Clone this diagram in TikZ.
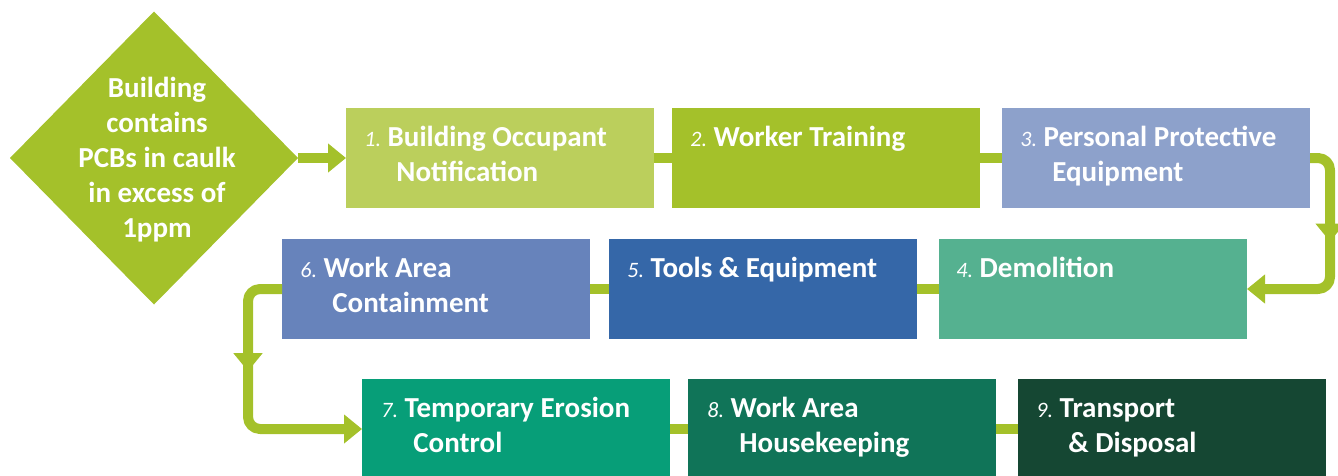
\documentclass[tikz,border=0pt]{standalone}
\usepackage{fontspec}
\setmainfont{Carlito}
\usepackage{tikz}
\usetikzlibrary{arrows.meta,shapes.geometric,decorations.markings,calc}

\definecolor{flowgreen}{HTML}{A4C12A}
\definecolor{stepA}{HTML}{BBCF5C}
\definecolor{stepB}{HTML}{A4C12A}
\definecolor{stepC}{HTML}{8DA1CB}
\definecolor{stepD}{HTML}{55B190}
\definecolor{stepE}{HTML}{3567A8}
\definecolor{stepF}{HTML}{6783BB}
\definecolor{stepG}{HTML}{079E78}
\definecolor{stepH}{HTML}{107458}
\definecolor{stepI}{HTML}{154733}

\newcommand{\stepno}[1]{\strut{\fontsize{11}{17.5}\selectfont\mdseries\itshape #1.}~}

\begin{document}
\begin{tikzpicture}[line cap=round,line join=round,>={Triangle[width=14pt,length=9pt]},x=0.5pt,y=-0.5pt,
  stepbox/.style={rectangle,minimum width=154pt,minimum height=50pt,inner sep=0pt,outer sep=0pt},
  steptext/.style={anchor=north west,inner sep=0pt,align=left,text=white,font=\fontsize{14.5}{17.5}\selectfont\bfseries},
  decision/.style={diamond,fill=flowgreen,minimum width=144pt,minimum height=146.5pt,inner sep=0pt,outer sep=0pt},
  decisiontext/.style={inner sep=0pt,align=center,text=white,font=\fontsize{14.5}{17.5}\selectfont\bfseries},
  flow/.style={draw=flowgreen,line width=5pt,line cap=butt,rounded corners=6pt},
  midarrow/.style={postaction={decorate},decoration={markings,mark=at position #1 with {\arrow{>}}}}]
\useasboundingbox (0,0) rectangle (1338,476);

% start
\node[decision] (d) at (154,158) {};
\node[decisiontext] (dt) at (157,160) {Building\\contains\\PCBs in caulk\\in excess of\\1ppm};

% steps
\node[stepbox,fill=stepA] (s1) at (500,158) {};
\node[stepbox,fill=stepB] (s2) at (826,158) {};
\node[stepbox,fill=stepC] (s3) at (1156,158) {};
\node[stepbox,fill=stepD] (s4) at (1093,289) {};
\node[stepbox,fill=stepE] (s5) at (763,289) {};
\node[stepbox,fill=stepF] (s6) at (436,289) {};
\node[stepbox,fill=stepG] (s7) at (516,429) {};
\node[stepbox,fill=stepH] (s8) at (842,429) {};
\node[stepbox,fill=stepI] (s9) at (1172,429) {};

\node[steptext] (t1) at ($(s1.north west)+(18,13.5)$) {\stepno{1}Building Occupant\\\hspace*{16pt}Notification};
\node[steptext] (t2) at ($(s2.north west)+(18,13.5)$) {\stepno{2}Worker Training};
\node[steptext] (t3) at ($(s3.north west)+(18,13.5)$) {\stepno{3}Personal Protective\\\hspace*{16pt}Equipment};
\node[steptext] (t4) at ($(s4.north west)+(17,13.5)$) {\stepno{4}Demolition};
\node[steptext] (t5) at ($(s5.north west)+(18,13.5)$) {\stepno{5}Tools \& Equipment};
\node[steptext] (t6) at ($(s6.north west)+(18,13.5)$) {\stepno{6}Work Area\\\hspace*{16pt}Containment};
\node[steptext] (t7) at ($(s7.north west)+(19,13.5)$) {\stepno{7}Temporary Erosion\\\hspace*{16pt}Control};
\node[steptext] (t8) at ($(s8.north west)+(19,13.5)$) {\stepno{8}Work Area\\\hspace*{16pt}Housekeeping};
\node[steptext] (t9) at ($(s9.north west)+(18,13.5)$) {\stepno{9}Transport\\\hspace*{16pt}\& Disposal};

% connectors
\draw[flow,->] (d.east) -- (s1.west);
\draw[flow] (s1.east) -- (s2.west);
\draw[flow] (s2.east) -- (s3.west);
\draw[flow,->,midarrow=0.44] (s3.east) -- ++(20,0) |- (s4.east);
\draw[flow] (s4.west) -- (s5.east);
\draw[flow] (s5.west) -- (s6.east);
\draw[flow,->,midarrow=0.40] (s6.west) -- ++(-34,0) |- (s7.west);
\draw[flow] (s7.east) -- (s8.west);
\draw[flow] (s8.east) -- (s9.west);
\end{tikzpicture}
\end{document}
